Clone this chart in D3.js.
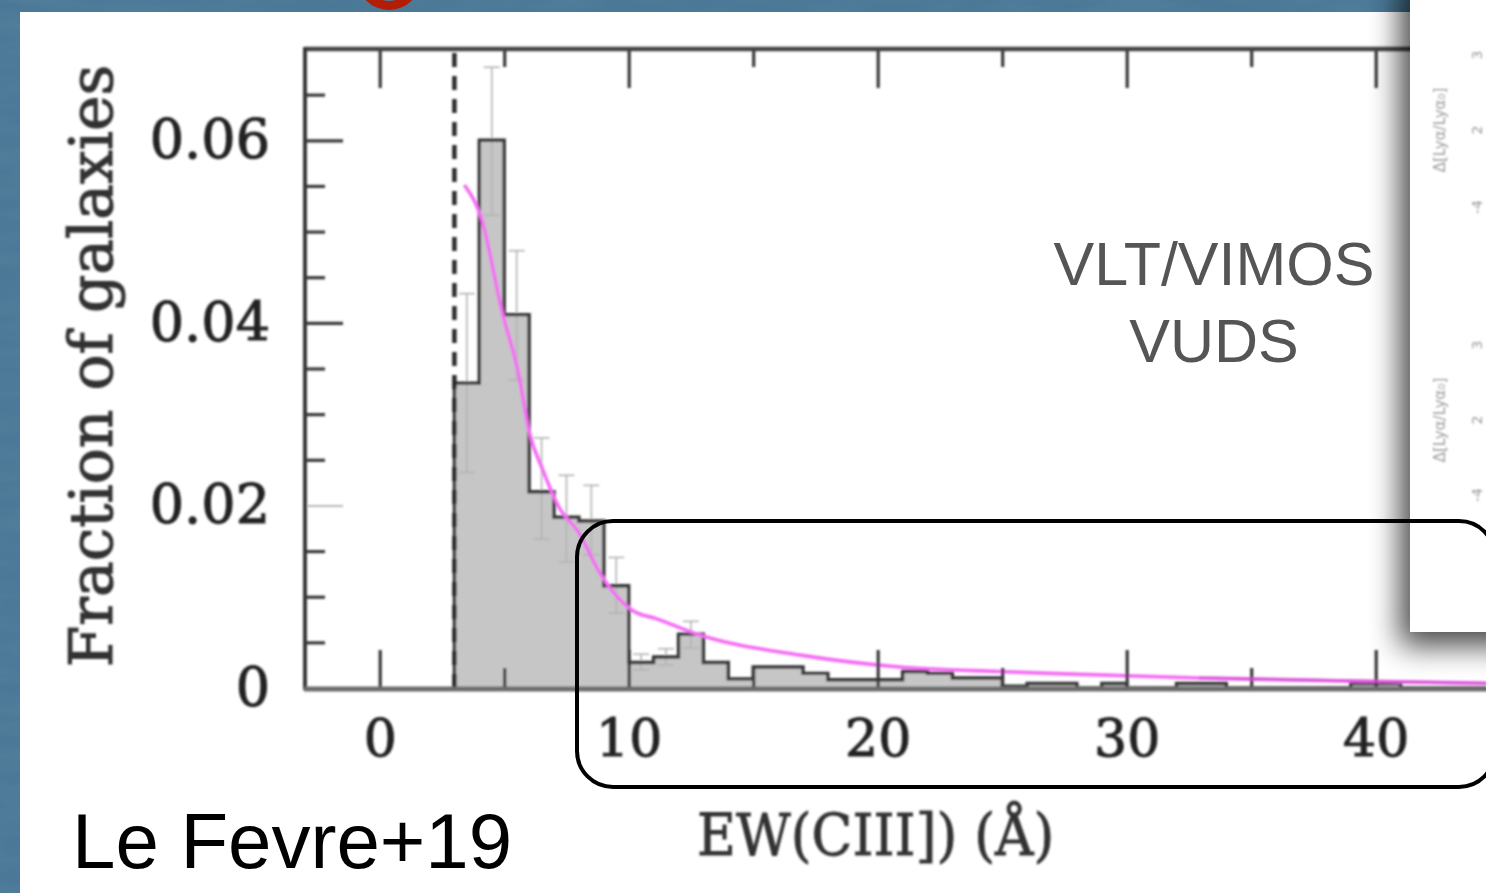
<!DOCTYPE html>
<html>
<head>
<meta charset="utf-8">
<script src="https://cdn.jsdelivr.net/npm/d3@7"></script>
<style>
  html, body { margin: 0; padding: 0; background: #ffffff; overflow: hidden; }
  svg { display: block; }
</style>
</head>
<body>
<svg id="fig" width="1486" height="893"></svg>
<script>
// ---- EW(CIII]) distribution, 1 Å bins starting at the 3 Å detection limit ----
const binStart = [3, 4, 5, 6, 7, 8, 9, 10, 11, 12, 13, 14, 15, 16, 17, 18, 19, 20, 21, 22, 23,
                  24, 25, 26, 27, 28, 29, 30, 31, 32, 33, 34, 35, 36, 37, 38, 39, 40, 41, 42, 43, 44];
const binFraction = [0.0334, 0.0600, 0.0409, 0.0215, 0.0187, 0.0183, 0.0112, 0.0028, 0.0034, 0.0059,
                     0.0028, 0.0010, 0.0023, 0.0023, 0.0016, 0.0009, 0.0009, 0.0009, 0.0018, 0.0016,
                     0.0011, 0.0011, 0.0002, 0.0005, 0.0005, 0.0000, 0.0005, 0.0000, 0.0000, 0.0005,
                     0.0005, 0.0000, 0.0000, 0.0000, 0.0000, 0.0000, 0.0005, 0.0005, 0.0000, 0.0000,
                     0.0000, 0.0000];
const binWidth = 1;

// Poisson error bars on the brightest bins
const errCenter = [3.5, 4.5, 5.5, 6.5, 7.5, 8.5, 9.5, 10.5, 11.5, 12.5];
const errLow    = [0.0236, 0.0518, 0.0337, 0.0163, 0.0138, 0.0146, 0.0082, 0.0020, 0.0025, 0.0044];
const errHigh   = [0.0432, 0.0680, 0.0479, 0.0274, 0.0233, 0.0222, 0.0143, 0.0037, 0.0043, 0.0073];

// Fitted distribution
const fitEW       = [3.4, 4.1, 4.9, 5.6, 6.0, 6.55, 7.2, 8.0, 8.8, 9.35, 10.15, 11.1, 12.85, 16.9, 20.9, 24.9, 26.9, 32.9, 38.5, 45];
const fitFraction = [0.0551, 0.0513, 0.0414, 0.0341, 0.0281, 0.0239, 0.0198, 0.0170, 0.0128, 0.0106, 0.0085, 0.0076, 0.0058, 0.0036, 0.0023, 0.0018, 0.0016, 0.0011, 0.0008, 0.0005];

const ewLimit = 3;

// Axis ticks
const xTickMajor = [0, 10, 20, 30, 40];
const xTickMinor = [5, 15, 25, 35];
const yTickMajor = [0, 0.02, 0.04, 0.06];
const yTickLabels = ["0", "0.02", "0.04", "0.06"];
const yTickMinor = [0.005, 0.01, 0.015, 0.025, 0.03, 0.035, 0.045, 0.05, 0.055, 0.065];

const yTitle = "Fraction of galaxies";
const xTitle = "EW(CIII]) (Å)";
const instrumentLines = ["VLT/VIMOS", "VUDS"];
const citation = "Le Fevre+19";

// ---- scales ----
const W = 1486, H = 893;
const plot = { left: 305, top: 49, bottom: 688 };
const x = d3.scaleLinear().domain([-3, 45]).range([plot.left, plot.left + 48 * 24.9]);
const y = d3.scaleLinear().domain([0, 0.07]).range([plot.bottom, plot.top]);

const svg = d3.select("#fig");
const defs = svg.append("defs");

// soft look of the scanned figure
defs.append("filter").attr("id", "soft")
  .attr("x", "-5%").attr("y", "-5%").attr("width", "110%").attr("height", "110%")
  .append("feGaussianBlur").attr("stdDeviation", 0.9);

const shadow = defs.append("filter").attr("id", "shade")
  .attr("x", "-100%").attr("y", "-20%").attr("width", "300%").attr("height", "150%");
shadow.append("feGaussianBlur").attr("stdDeviation", 15);

const noise = defs.append("filter").attr("id", "mottle");
noise.append("feTurbulence").attr("type", "fractalNoise").attr("baseFrequency", "0.012 0.06")
  .attr("numOctaves", 3).attr("seed", 7);
noise.append("feColorMatrix").attr("type", "matrix")
  .attr("values", "0 0 0 0 0.18  0 0 0 0 0.33  0 0 0 0 0.45  0 0 0 0.9 -0.25");

defs.append("clipPath").attr("id", "plotClip")
  .append("rect").attr("x", plot.left).attr("y", plot.top)
  .attr("width", W - plot.left).attr("height", plot.bottom - plot.top);

// ---- slide background ----
svg.append("rect").attr("width", W).attr("height", H).attr("fill", "#4a7896");
svg.append("rect").attr("width", W).attr("height", H).attr("filter", "url(#mottle)").attr("opacity", 0.35);
svg.append("rect").attr("x", 20).attr("y", 12).attr("width", W - 20).attr("height", H - 12).attr("fill", "#ffffff");

// red ring peeking in at the top
svg.append("path")
  .attr("transform", "translate(389,-22)")
  .attr("d", d3.arc()({ innerRadius: 23, outerRadius: 32, startAngle: 0, endAngle: 2 * Math.PI }))
  .attr("fill", "#b31d04");

// ---- chart ----
const chart = svg.append("g").attr("filter", "url(#soft)");
const inner = chart.append("g").attr("clip-path", "url(#plotClip)");

// histogram outline points
const stepPts = [[binStart[0], 0]];
binStart.forEach((b, i) => {
  stepPts.push([b, binFraction[i]]);
  stepPts.push([b + binWidth, binFraction[i]]);
});
stepPts.push([binStart[binStart.length - 1] + binWidth, 0]);

inner.append("path")
  .datum(stepPts)
  .attr("d", d3.area().x(d => x(d[0])).y0(y(0)).y1(d => y(d[1])))
  .attr("fill", "#c6c6c6");

// error bars
const capHalf = 0.32;
const eb = inner.append("g").attr("stroke", "#b3b3b3").attr("stroke-width", 1.6).attr("fill", "none");
errCenter.forEach((c, i) => {
  eb.append("line").attr("x1", x(c)).attr("x2", x(c)).attr("y1", y(errLow[i])).attr("y2", y(errHigh[i]));
  eb.append("line").attr("x1", x(c - capHalf)).attr("x2", x(c + capHalf)).attr("y1", y(errLow[i])).attr("y2", y(errLow[i]));
  eb.append("line").attr("x1", x(c - capHalf)).attr("x2", x(c + capHalf)).attr("y1", y(errHigh[i])).attr("y2", y(errHigh[i]));
});

inner.append("path")
  .datum(stepPts)
  .attr("d", d3.line().x(d => x(d[0])).y(d => y(d[1])))
  .attr("fill", "none").attr("stroke", "#353535").attr("stroke-width", 3.4)
  .attr("stroke-linejoin", "miter");

// detection limit
inner.append("line")
  .attr("x1", x(ewLimit)).attr("x2", x(ewLimit))
  .attr("y1", y(0)).attr("y2", y(0.07))
  .attr("stroke", "#2a2a2a").attr("stroke-width", 4.5).attr("stroke-dasharray", "14,9");

// fitted curve
inner.append("path")
  .datum(fitEW.map((e, i) => [e, fitFraction[i]]))
  .attr("d", d3.line().x(d => x(d[0])).y(d => y(d[1])).curve(d3.curveMonotoneX))
  .attr("fill", "none").attr("stroke", "#f46cf4").attr("stroke-width", 3.6);

// axes with inward ticks
const axisStyle = g => {
  g.select(".domain").remove();
  g.selectAll(".tick line").attr("stroke", "#383838").attr("stroke-width", 3.2);
  g.selectAll("text").attr("font-family", "'DejaVu Serif', serif").attr("fill", "#242424")
    .attr("stroke", "#242424").attr("stroke-width", 1.1);
};

chart.append("g").attr("transform", `translate(0,${plot.bottom})`)
  .call(d3.axisBottom(x).tickValues(xTickMajor).tickSize(-38).tickPadding(31).tickFormat(d3.format("d")))
  .call(axisStyle)
  .call(g => g.selectAll("text").attr("font-size", 52));
chart.append("g").attr("transform", `translate(0,${plot.bottom})`)
  .call(d3.axisBottom(x).tickValues(xTickMinor).tickSize(-20).tickFormat(""))
  .call(axisStyle);

chart.append("g").attr("transform", `translate(0,${plot.top})`)
  .call(d3.axisTop(x).tickValues(xTickMajor).tickSize(-39).tickFormat(""))
  .call(axisStyle);
chart.append("g").attr("transform", `translate(0,${plot.top})`)
  .call(d3.axisTop(x).tickValues(xTickMinor).tickSize(-18).tickFormat(""))
  .call(axisStyle);

chart.append("g").attr("transform", `translate(${plot.left},0)`)
  .call(d3.axisLeft(y).tickValues(yTickMajor).tickSize(-38).tickPadding(35)
    .tickFormat((d, i) => yTickLabels[i]))
  .call(axisStyle)
  .call(g => g.selectAll("text").attr("font-size", 54))
  .call(g => g.selectAll(".tick").filter(d => d === 0.02).select("line").attr("stroke", "#b8b8b8").attr("stroke-width", 2))
  .call(g => g.selectAll(".tick").filter(d => d === 0).select("line").remove());
chart.append("g").attr("transform", `translate(${plot.left},0)`)
  .call(d3.axisLeft(y).tickValues(yTickMinor).tickSize(-20).tickFormat(""))
  .call(axisStyle);

// frame
chart.append("line").attr("x1", plot.left).attr("x2", W + 10).attr("y1", plot.top).attr("y2", plot.top)
  .attr("stroke", "#444").attr("stroke-width", 4.5);
chart.append("line").attr("x1", plot.left).attr("x2", plot.left).attr("y1", plot.top - 2).attr("y2", plot.bottom + 2)
  .attr("stroke", "#383838").attr("stroke-width", 4);
chart.append("line").attr("x1", plot.left - 1).attr("x2", W + 10).attr("y1", plot.bottom + 1).attr("y2", plot.bottom + 1)
  .attr("stroke", "#6c6c6c").attr("stroke-width", 5);

// redraw the fit over the baseline where it merges with it
chart.append("path")
  .datum(fitEW.map((e, i) => [e, fitFraction[i]]).filter(d => d[0] > 30))
  .attr("d", d3.line().x(d => x(d[0])).y(d => y(d[1])).curve(d3.curveMonotoneX))
  .attr("fill", "none").attr("stroke", "#d455d4").attr("stroke-width", 3).attr("opacity", 0.8);

// axis titles
chart.append("text")
  .attr("transform", `translate(112,366) rotate(-90)`)
  .attr("text-anchor", "middle")
  .attr("font-family", "'DejaVu Serif', serif").attr("font-size", 60).attr("fill", "#333")
  .attr("stroke", "#333").attr("stroke-width", 1.1)
  .text(yTitle);

chart.append("text")
  .attr("transform", "translate(697,855) scale(0.92,1)")
  .attr("font-family", "'DejaVu Serif', serif").attr("font-size", 58).attr("fill", "#333")
  .attr("stroke", "#333").attr("stroke-width", 0.9)
  .text(xTitle);

// ---- overlapping panel on the right, with its drop shadow ----
svg.append("rect").attr("x", 1400).attr("y", -20).attr("width", 140).attr("height", 666)
  .attr("fill", "#000").attr("opacity", 0.72).attr("filter", "url(#shade)");
svg.append("rect").attr("x", 1410).attr("y", 0).attr("width", 90).attr("height", 632).attr("fill", "#ffffff");

const faint = svg.append("g").attr("fill", "#9a9a9a").attr("font-family", "'DejaVu Sans', sans-serif")
  .attr("filter", "url(#soft)");
[130, 420].forEach(cy => {
  faint.append("text").attr("transform", `translate(1445,${cy}) rotate(-90)`)
    .attr("text-anchor", "middle").attr("font-size", 15).text("Δ[Lyα/Lyα₀]");
});
[[55, "3"], [130, "2"], [207, "-4"], [345, "3"], [420, "2"], [495, "-4"]].forEach(([cy, t]) => {
  faint.append("text").attr("transform", `translate(1482,${cy}) rotate(-90)`)
    .attr("text-anchor", "middle").attr("font-size", 14).text(t);
});

// highlight box around the high-EW tail
svg.append("rect")
  .attr("x", 577).attr("y", 521).attr("width", 918).attr("height", 266)
  .attr("rx", 36).attr("ry", 36)
  .attr("fill", "none").attr("stroke", "#000").attr("stroke-width", 4);

// annotations
svg.selectAll("text.inst").data(instrumentLines).enter().append("text")
  .attr("class", "inst")
  .attr("x", 1214).attr("y", (d, i) => 285 + i * 77)
  .attr("text-anchor", "middle")
  .attr("font-family", "'Liberation Sans', Arial, sans-serif").attr("font-size", 61)
  .attr("fill", "#555555")
  .text(d => d);

svg.append("text")
  .attr("x", 72).attr("y", 868)
  .attr("font-family", "'Liberation Sans', Arial, sans-serif").attr("font-size", 78)
  .attr("fill", "#000")
  .text(citation);
</script>
</body>
</html>
